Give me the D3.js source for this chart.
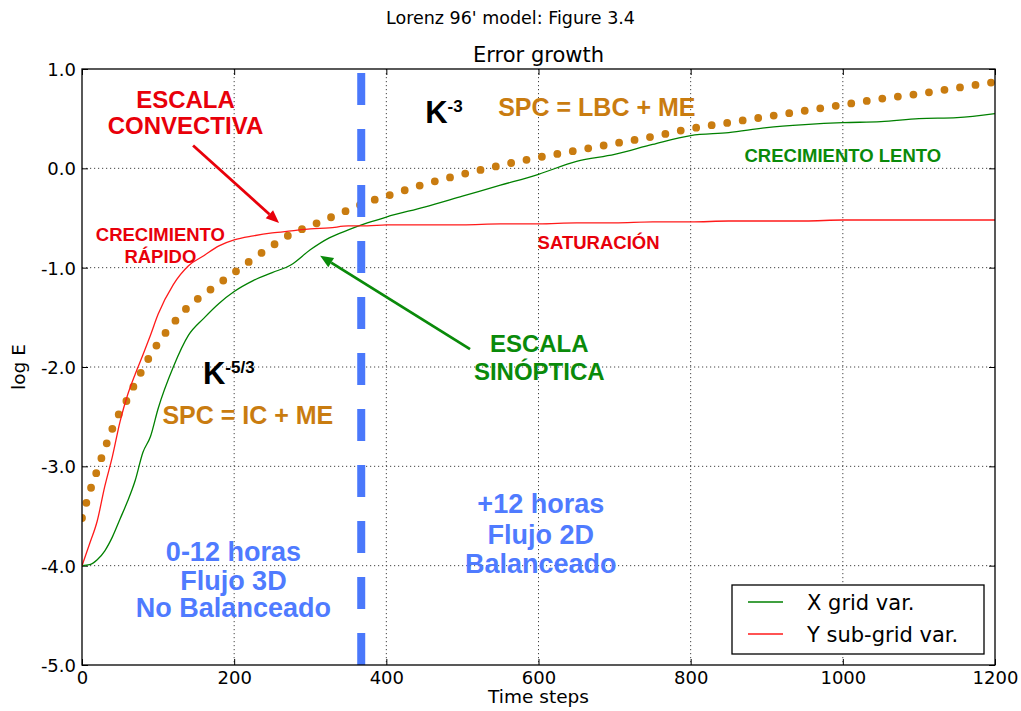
<!DOCTYPE html>
<html>
<head>
<meta charset="utf-8">
<script src="https://cdnjs.cloudflare.com/ajax/libs/d3/7.8.5/d3.min.js"></script>
<style>
  body { margin: 0; background: #fff; }
  .ax text { font-family: "DejaVu Sans", sans-serif; font-size: 18px; fill: #000; }
  .lbl { font-family: "Liberation Sans", Arial, sans-serif; font-weight: bold; }
</style>
</head>
<body>
<script>
// time steps shared by all series
const steps = [0, 10, 20, 30, 40, 50, 60, 70, 80, 90, 100, 120, 140, 160, 180, 200, 225, 250, 275, 300,
  325, 350, 375, 400, 450, 500, 550, 600, 650, 700, 750, 800, 850, 900, 950, 1000, 1050, 1100, 1150, 1200];

// X grid var. (green)
const xGrid = [-4.0, -3.99, -3.94, -3.85, -3.71, -3.53, -3.35, -3.14, -2.86, -2.70, -2.42, -2.00, -1.68, -1.51, -1.36, -1.24, -1.13, -1.05, -0.97, -0.82,
  -0.70, -0.62, -0.55, -0.49, -0.39, -0.28, -0.17, -0.06, 0.07, 0.14, 0.24, 0.33, 0.36, 0.41, 0.44, 0.46, 0.47, 0.50, 0.51, 0.55];

// Y sub-grid var. (red)
const ySubGrid = [-4.0, -3.78, -3.55, -3.2, -2.9, -2.55, -2.28, -2.07, -1.88, -1.68, -1.47, -1.17, -0.98, -0.88, -0.78, -0.72, -0.68, -0.65, -0.63, -0.61,
  -0.60, -0.58, -0.58, -0.57, -0.57, -0.57, -0.56, -0.56, -0.55, -0.55, -0.54, -0.54, -0.53, -0.53, -0.53, -0.52, -0.52, -0.52, -0.52, -0.52];

// SPC fit (dotted orange)
const spc = [-3.52, -3.26, -3.04, -2.82, -2.62, -2.45, -2.32, -2.16, -2.02, -1.88, -1.76, -1.56, -1.39, -1.27, -1.16, -1.05, -0.91, -0.78, -0.66, -0.58,
  -0.50, -0.42, -0.34, -0.28, -0.16, -0.06, 0.03, 0.11, 0.18, 0.25, 0.32, 0.40, 0.46, 0.52, 0.58, 0.64, 0.70, 0.75, 0.81, 0.87];

const xTicks = [0, 200, 400, 600, 800, 1000, 1200];
const yTicks = [1, 0, -1, -2, -3, -4, -5];
const splitStep = 367; // 12 h mark

const W = 1021, H = 711;
const margin = { top: 69, right: 26, bottom: 46, left: 82 };
const pw = W - margin.left - margin.right, ph = H - margin.top - margin.bottom;

const svg = d3.select("body").append("svg").attr("width", W).attr("height", H);

svg.append("text")
  .attr("x", 510.5).attr("y", 24).attr("text-anchor", "middle")
  .style("font-family", "DejaVu Sans").style("font-size", "17.5px")
  .text("Lorenz 96' model: Figure 3.4");

const g = svg.append("g").attr("transform", `translate(${margin.left},${margin.top})`);

const x = d3.scaleLinear().domain([0, 1200]).range([0, pw]);
const y = d3.scaleLinear().domain([-5, 1]).range([ph, 0]);

g.append("text")
  .attr("x", pw / 2).attr("y", -7).attr("text-anchor", "middle")
  .style("font-family", "DejaVu Sans").style("font-size", "21px")
  .text("Error growth");

g.append("defs").append("clipPath").attr("id", "plotClip")
  .append("rect").attr("width", pw).attr("height", ph);

//******* GRID */
const grid_g = g.append("g").attr("class", "grid")
  .attr("stroke", "#444").attr("stroke-width", 1).attr("stroke-dasharray", "1.2,2.8");
grid_g.selectAll("line.gx").data(xTicks.slice(1, -1)).join("line")
  .attr("x1", d => x(d)).attr("x2", d => x(d)).attr("y1", 0).attr("y2", ph);
grid_g.selectAll("line.gy").data(yTicks.slice(1, -1)).join("line")
  .attr("y1", d => y(d)).attr("y2", d => y(d)).attr("x1", 0).attr("x2", pw);

//******** AXIS */
const fmt = d => d.toFixed(1);
const axis_bottom_g = g.append("g").attr("class", "ax").attr("transform", `translate(0,${ph})`)
  .call(d3.axisBottom(x).tickValues(xTicks).tickSize(-6).tickPadding(6).tickFormat(d => String(d)));
const axis_top_g = g.append("g").attr("class", "ax")
  .call(d3.axisTop(x).tickValues(xTicks).tickSize(-6).tickFormat(""));
const axis_left_g = g.append("g").attr("class", "ax")
  .call(d3.axisLeft(y).tickValues(yTicks).tickSize(-6).tickPadding(6).tickFormat(fmt));
const axis_right_g = g.append("g").attr("class", "ax").attr("transform", `translate(${pw},0)`)
  .call(d3.axisRight(y).tickValues(yTicks).tickSize(-6).tickFormat(""));
[axis_bottom_g, axis_top_g, axis_left_g, axis_right_g].forEach(a => {
  a.select(".domain").remove();
  a.selectAll(".tick line").attr("stroke", "#000").attr("stroke-width", 1);
});
axis_left_g.selectAll(".tick text").attr("dy", "0.36em");

g.append("text")
  .attr("x", pw / 2).attr("y", ph + 38).attr("text-anchor", "middle")
  .style("font-family", "DejaVu Sans").style("font-size", "18.5px")
  .text("Time steps");
g.append("text")
  .attr("transform", `translate(${25 - margin.left},${ph / 2}) rotate(-90)`)
  .attr("text-anchor", "middle")
  .style("font-family", "DejaVu Sans").style("font-size", "18.5px")
  .text("log E");

//******* SERIES */
const plot_g = g.append("g").attr("clip-path", "url(#plotClip)");
const line = vals => d3.line().curve(d3.curveMonotoneX)
  .x((d, i) => x(steps[i])).y(d => y(d))(vals);

plot_g.append("path").attr("d", line(spc))
  .attr("fill", "none").attr("stroke", "#c97c10").attr("stroke-width", 7.8)
  .attr("stroke-linecap", "round").attr("stroke-dasharray", "0,15.7");
plot_g.append("path").attr("d", line(xGrid))
  .attr("fill", "none").attr("stroke", "#008000").attr("stroke-width", 1.3);
plot_g.append("path").attr("d", line(ySubGrid))
  .attr("fill", "none").attr("stroke", "#ff1a1a").attr("stroke-width", 1.3);

// 12 h separation, drawn bottom-up so the dashes line up with the axis
plot_g.append("line")
  .attr("x1", x(splitStep)).attr("x2", x(splitStep)).attr("y1", ph).attr("y2", 0)
  .attr("stroke", "#4a78fb").attr("stroke-width", 8).attr("stroke-dasharray", "32,24");

//******* FRAME */
g.append("rect").attr("width", pw).attr("height", ph)
  .attr("fill", "none").attr("stroke", "#000").attr("stroke-width", 1.3);

//******* ANNOTATIONS */
const RED = "#e8000a", GREEN = "#0a8a0a", ORANGE = "#c97c10", BLUE = "#4f7bff";

function label(lines, cx, ys, size, color, anchor = "middle") {
  lines.forEach((t, i) => {
    g.append("text").attr("class", "lbl")
      .attr("x", x(cx)).attr("y", y(ys[i])).attr("text-anchor", anchor)
      .style("font-size", size + "px").attr("fill", color).text(t);
  });
}

function arrow(x0, y0, x1, y1, color) {
  const ax = x(x0), ay = y(y0), bx = x(x1), by = y(y1);
  const ang = Math.atan2(by - ay, bx - ax), L = 13, Wd = 5.5;
  const cx = bx - L * Math.cos(ang), cy = by - L * Math.sin(ang);
  g.append("line").attr("x1", ax).attr("y1", ay).attr("x2", cx).attr("y2", cy)
    .attr("stroke", color).attr("stroke-width", 2.8);
  g.append("path")
    .attr("d", `M${bx},${by}L${cx - Wd * Math.sin(ang)},${cy + Wd * Math.cos(ang)}L${cx + Wd * Math.sin(ang)},${cy - Wd * Math.cos(ang)}Z`)
    .attr("fill", color);
}

label(["ESCALA", "CONVECTIVA"], 136, [0.61, 0.35], 24, RED);
arrow(146, 0.23, 259, -0.55, RED);
label(["CRECIMIENTO", "RÁPIDO"], 103, [-0.735, -0.95], 18.5, RED);
label(["SATURACIÓN"], 679, [-0.81], 18.5, RED);
label(["CRECIMIENTO LENTO"], 1000, [0.06], 18.5, GREEN);
label(["ESCALA", "SINÓPTICA"], 601, [-1.85, -2.13], 24, GREEN);
arrow(510, -1.82, 313, -0.88, GREEN);
label(["SPC = LBC + ME"], 547, [0.53], 25, ORANGE, "start");
label(["SPC = IC + ME"], 218, [-2.57], 25, ORANGE);
label(["0-12 horas", "Flujo 3D", "No Balanceado"], 199, [-3.95, -4.24, -4.52], 27, BLUE);
label(["+12 horas", "Flujo 2D", "Balanceado"], 603, [-3.47, -3.78, -4.07], 27, BLUE);

function kLabel(x0, y0, sup) {
  const t = g.append("text").attr("class", "lbl")
    .attr("x", x(x0)).attr("y", y(y0)).attr("fill", "#000");
  t.append("tspan").style("font-size", "31px").text("K");
  t.append("tspan").style("font-size", "17px").attr("dy", -11).text(sup);
}
kLabel(451, 0.46, "-3");
kLabel(159, -2.17, "-5/3");

//******* LEGEND */
const legend = [{ name: "X grid var.", color: "#008000" }, { name: "Y sub-grid var.", color: "#ff1a1a" }];
const leg_g = g.append("g").attr("transform", `translate(${732 - margin.left},${585 - margin.top})`);
leg_g.append("rect").attr("width", 252).attr("height", 69)
  .attr("fill", "#fff").attr("stroke", "#000").attr("stroke-width", 1.3);
legend.forEach((d, i) => {
  leg_g.append("line").attr("x1", 16).attr("x2", 51).attr("y1", 17 + i * 32).attr("y2", 17 + i * 32)
    .attr("stroke", d.color).attr("stroke-width", 1.4);
  leg_g.append("text").attr("x", 75).attr("y", 17 + i * 32).attr("dy", "0.36em")
    .style("font-family", "DejaVu Sans").style("font-size", "21px").text(d.name);
});
</script>
</body>
</html>
